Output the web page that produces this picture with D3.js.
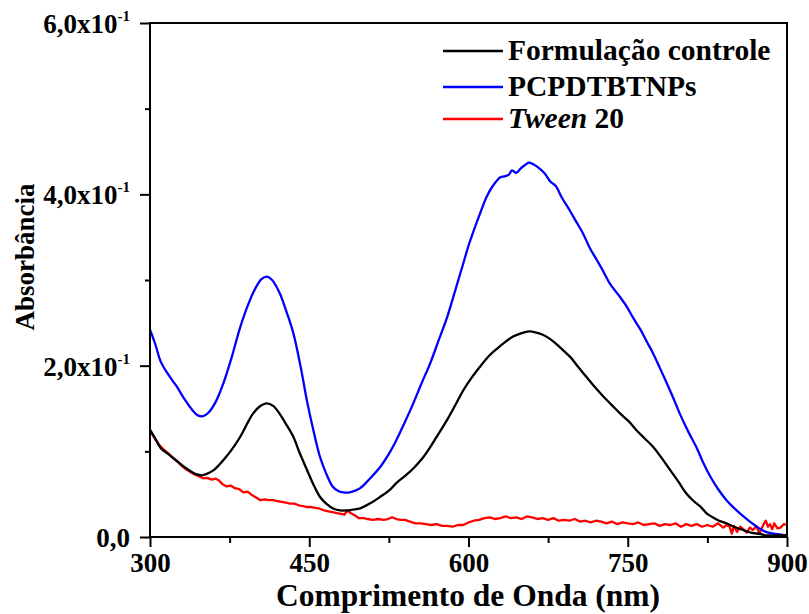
<!DOCTYPE html>
<html><head><meta charset="utf-8">
<script src="https://cdn.jsdelivr.net/npm/d3@7"></script>
<style>
html,body{margin:0;padding:0;background:#fff;}
text{font-family:"Liberation Serif","Times New Roman",serif;font-weight:bold;fill:#000;}
</style></head>
<body><svg id="c" width="809" height="614"></svg>
<script>
const blueNm=[300,305,310,317,325,333,340,345,350,355,362,369,377,385,393,400,405,410,415,422,428,435,442,448,454,460,466,472,477,482,488,493,498,507,517,525,532,540,548,556,564,572,580,588,595,600,605,611,617,623,630,634,638,641,645,649,653,657,661,667,672,677,682,688,695,701,708,714,721,727,733,741,749,755,762,768,774,780,787,793,799,807,815,821,828,835,843,850,859,866,874,880,887,893,900];
const blueVal=[0.242,0.225,0.205,0.190,0.176,0.160,0.148,0.142,0.141,0.145,0.158,0.179,0.210,0.245,0.273,0.292,0.301,0.304,0.300,0.285,0.265,0.238,0.198,0.158,0.124,0.094,0.074,0.059,0.054,0.052,0.052,0.054,0.057,0.068,0.082,0.097,0.113,0.134,0.156,0.180,0.203,0.230,0.257,0.290,0.319,0.340,0.358,0.378,0.397,0.410,0.420,0.421,0.423,0.428,0.425,0.430,0.434,0.437,0.435,0.430,0.424,0.415,0.410,0.396,0.382,0.369,0.354,0.338,0.323,0.310,0.296,0.283,0.269,0.256,0.242,0.228,0.214,0.198,0.179,0.162,0.144,0.123,0.104,0.087,0.070,0.056,0.043,0.034,0.024,0.017,0.010,0.006,0.004,0.003,0.002];

const blackNm=[300,305,310,317,325,332,338,344,349,354,360,365,370,377,385,391,397,403,410,416,422,428,435,441,448,454,460,466,473,479,485,491,498,507,517,525,532,540,548,556,564,572,580,588,595,603,611,619,627,635,642,650,657,663,670,677,684,690,696,703,711,719,727,735,743,751,758,766,774,782,790,798,805,812,818,824,830,836,843,850,859,866,875,880,890,900];
const blackVal=[0.125,0.115,0.104,0.097,0.089,0.082,0.077,0.073,0.072,0.074,0.078,0.084,0.091,0.102,0.117,0.131,0.144,0.152,0.156,0.153,0.144,0.132,0.117,0.098,0.078,0.061,0.047,0.039,0.033,0.031,0.031,0.032,0.0335,0.039,0.047,0.054,0.063,0.071,0.080,0.091,0.105,0.121,0.137,0.155,0.171,0.186,0.199,0.211,0.220,0.228,0.234,0.238,0.240,0.239,0.236,0.231,0.224,0.217,0.210,0.199,0.187,0.175,0.164,0.154,0.144,0.135,0.125,0.115,0.105,0.092,0.078,0.064,0.051,0.042,0.036,0.028,0.023,0.019,0.016,0.012,0.008,0.005,0.0035,0.002,0.002,0.002];

const redNm=[300,303,306,309,313,317,322,326,330,334,338,342,346,350,354,358,362,365,368,372,376,380,384,388,392,396,400,404,408,412,416,420,424,428,432,436,440,444,448,452,456,460,464,468,472,476,480,483,486,489,493,497,501,505,510,515,520,524,528,532,536,540,545,550,555,560,565,570,575,580,585,590,595,600,605,610,615,620,625,630,635,640,645,650,655,660,665,670,675,680,685,690,695,700,705,710,715,720,725,730,735,740,745,750,755,760,765,770,775,780,785,790,795,800,805,810,815,820,825,830,835,840,843,846,848,850,853,856,859,862,865,868,871,874,876,878,880,882,884,886,888,891,894,897,900];
const redVal=[0.125,0.118,0.112,0.107,0.102,0.098,0.092,0.088,0.083,0.079,0.076,0.073,0.071,0.0685,0.069,0.067,0.068,0.066,0.062,0.059,0.060,0.057,0.056,0.052,0.053,0.049,0.046,0.043,0.044,0.043,0.043,0.042,0.041,0.040,0.039,0.039,0.037,0.036,0.035,0.035,0.034,0.033,0.031,0.030,0.029,0.028,0.027,0.026,0.031,0.028,0.025,0.022,0.022,0.021,0.020,0.021,0.020,0.021,0.023,0.021,0.020,0.020,0.018,0.016,0.016,0.015,0.014,0.015,0.013,0.013,0.012,0.014,0.014,0.017,0.019,0.020,0.022,0.023,0.021,0.022,0.024,0.022,0.023,0.021,0.024,0.023,0.021,0.022,0.020,0.022,0.019,0.020,0.019,0.021,0.018,0.019,0.017,0.019,0.018,0.016,0.018,0.015,0.017,0.016,0.015,0.017,0.014,0.015,0.016,0.013,0.015,0.014,0.016,0.012,0.015,0.013,0.015,0.012,0.014,0.012,0.016,0.011,0.014,0.012,0.004,0.013,0.006,0.012,0.009,0.005,0.011,0.008,0.013,0.004,0.010,0.015,0.019,0.012,0.015,0.009,0.016,0.010,0.011,0.015,0.014];

const seriesNames=["Formulação controle","PCPDTBTNPs","Tween 20"];
const seriesColors=["#000000","#0000ff","#ff0000"];
const xTicks=[300,450,600,750,900];
const xMinor=[375,525,675,825];
const yTicks=[0,0.2,0.4,0.6];
const yMinor=[0.1,0.3,0.5];
const yTickLabels=["0,0","2,0x10","4,0x10","6,0x10"];

const svg=d3.select("#c");
const L=150,R=787,T=23,B=537;
const x=d3.scaleLinear().domain([300,900]).range([L,R]);
const y=d3.scaleLinear().domain([0,0.6]).range([B,T]);

svg.append("clipPath").attr("id","cp").append("rect").attr("x",L).attr("y",T).attr("width",R-L).attr("height",B-T);

const series=[
 {nm:blackNm,v:blackVal,curve:d3.curveCatmullRom},
 {nm:blueNm,v:blueVal,curve:d3.curveCatmullRom},
 {nm:redNm,v:redVal,curve:d3.curveLinear}
];
const gLines=svg.append("g").attr("clip-path","url(#cp)");
[2,1,0].forEach(i=>{
  const s=series[i];
  const pts=s.nm.map((n,j)=>[n,s.v[j]]);
  gLines.append("path").datum(pts)
   .attr("d",d3.line().x(d=>x(d[0])).y(d=>y(d[1])).curve(s.curve))
   .attr("fill","none").attr("stroke",seriesColors[i]).attr("stroke-width",2.3).attr("stroke-linejoin","round");
});

svg.append("rect").attr("x",L).attr("y",T).attr("width",R-L).attr("height",B-T)
  .attr("fill","none").attr("stroke","#000").attr("stroke-width",2);

const xa=svg.append("g").attr("transform",`translate(0,${B})`)
  .call(d3.axisBottom(x).tickValues(xTicks).tickSize(10).tickFormat(d3.format("d")));
xa.select(".domain").remove();
xa.selectAll("line").attr("stroke","#000").attr("stroke-width",2);
xa.selectAll("text").attr("font-size",27).attr("dy",null).attr("y",35).attr("font-family","Liberation Serif").attr("font-weight","bold");
const xm=svg.append("g").attr("transform",`translate(0,${B})`)
  .call(d3.axisBottom(x).tickValues(xMinor).tickSize(6).tickFormat(""));
xm.select(".domain").remove();
xm.selectAll("line").attr("stroke","#000").attr("stroke-width",2);

const ya=svg.append("g").attr("transform",`translate(${L},0)`)
  .call(d3.axisLeft(y).tickValues(yTicks).tickSize(10).tickFormat(""));
ya.select(".domain").remove();
ya.selectAll("line").attr("stroke","#000").attr("stroke-width",2);
const ym=svg.append("g").attr("transform",`translate(${L},0)`)
  .call(d3.axisLeft(y).tickValues(yMinor).tickSize(5).tickFormat(""));
ym.select(".domain").remove();
ym.selectAll("line").attr("stroke","#000").attr("stroke-width",2);

yTicks.forEach((t,i)=>{
  const tx=svg.append("text").attr("x",L-20).attr("y",y(t)+10).attr("text-anchor","end").attr("font-size",27);
  tx.append("tspan").text(yTickLabels[i]);
  if(t!==0){
    tx.append("tspan").text("-1").attr("font-size",15).attr("dy",-12);
  }
});

svg.append("text").attr("x",468).attr("y",606).attr("text-anchor","middle").attr("font-size",31.5).text("Comprimento de Onda (nm)");
svg.append("text").attr("transform","translate(34,257) rotate(-90)").attr("text-anchor","middle").attr("font-size",27).text("Absorbância");

const legY=[51,87,119];
seriesNames.forEach((n,i)=>{
  svg.append("line").attr("x1",443).attr("x2",503).attr("y1",legY[i]).attr("y2",legY[i])
    .attr("stroke",seriesColors[i]).attr("stroke-width",2.4);
  const t=svg.append("text").attr("x",508).attr("y",legY[i]+9).attr("font-size",29.5);
  if(n==="Tween 20"){
    t.append("tspan").attr("font-style","italic").text("Tween");
    t.append("tspan").text(" 20");
  } else t.text(n);
});
</script></body></html>
